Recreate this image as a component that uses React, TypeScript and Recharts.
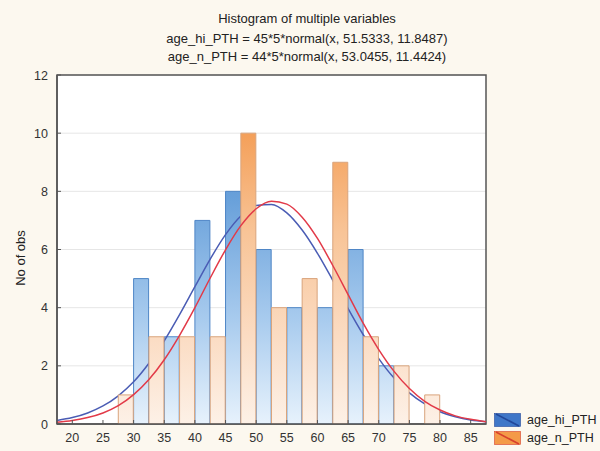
import { Bar, CartesianGrid, ComposedChart, Line, ReferenceArea, XAxis, YAxis } from "recharts"

// histogram bins (centre of each 5-year bin)
const binCenters = [27.5, 32.5, 37.5, 42.5, 47.5, 52.5, 57.5, 62.5, 67.5, 72.5, 77.5]
const hiCounts = [0, 5, 3, 7, 8, 6, 4, 4, 6, 2, 0]
const nCounts = [1, 3, 3, 3, 10, 4, 5, 9, 3, 2, 1]

// fitted normal curves
const curveX = [
  17.5, 20, 22.5, 25, 27.5, 30, 32.5, 35, 37.5, 40, 42.5, 45, 47.5, 50, 52.5,
  55, 57.5, 60, 62.5, 65, 67.5, 70, 72.5, 75, 77.5, 80, 82.5, 85, 87.5,
]
const hiCurve = [
  0.12, 0.22, 0.38, 0.62, 0.97, 1.45, 2.09, 2.86, 3.76, 4.72, 5.67, 6.51, 7.15,
  7.51, 7.55, 7.26, 6.67, 5.87, 4.94, 3.97, 3.06, 2.25, 1.58, 1.07, 0.69, 0.42,
  0.25, 0.14, 0.08,
]
const nCurve = [
  0.06, 0.12, 0.22, 0.38, 0.63, 1.01, 1.53, 2.21, 3.05, 4.0, 5.02, 5.99, 6.82,
  7.4, 7.66, 7.56, 7.11, 6.38, 5.45, 4.45, 3.45, 2.56, 1.81, 1.22, 0.78, 0.48,
  0.28, 0.16, 0.08,
]

const xTicks = [20, 25, 30, 35, 40, 45, 50, 55, 60, 65, 70, 75, 80, 85]
const yTicks = [0, 2, 4, 6, 8, 10, 12]

const titleLines = [
  "Histogram of multiple variables",
  "age_hi_PTH = 45*5*normal(x, 51.5333, 11.8487)",
  "age_n_PTH = 44*5*normal(x, 53.0455, 11.4424)",
]

const W = 600
const H = 451
const PLOT_TOP = 75
const PLOT_LEFT = 57
const PLOT_RIGHT = 486
const PLOT_BOTTOM = 424
const X_DOMAIN: [number, number] = [17.5, 87.5]
const BIN = 5

const FONT = "'Liberation Sans', Arial, sans-serif"
const AXIS = "#555"
const BG = "#fcf8ef"

// each bin is split in two half-width slots: age_hi_PTH left, age_n_PTH right
const histData = binCenters.flatMap((c, i) => [
  { x: c - BIN / 4, hi: hiCounts[i] },
  { x: c + BIN / 4, n: nCounts[i] },
])
const hiLine = curveX.map((x, i) => ({ x, y: hiCurve[i] }))
const nLine = curveX.map((x, i) => ({ x, y: nCurve[i] }))

function BottomTick({ x, y, payload }: any) {
  return (
    <g>
      <line x1={x} y1={y} x2={x} y2={y - 4} stroke={AXIS} />
      <text x={x} y={y + 18} textAnchor="middle" fontSize={12.5} fill="#333" fontFamily={FONT}>
        {payload.value}
      </text>
    </g>
  )
}

function TopTick({ x, y }: any) {
  return <line x1={x} y1={y} x2={x} y2={y + 4} stroke={AXIS} />
}

function LeftTick({ x, y, payload }: any) {
  return (
    <g>
      <line x1={x} y1={y} x2={x + 4} y2={y} stroke={AXIS} />
      <text x={x - 9} y={y + 4.5} textAnchor="end" fontSize={12.5} fill="#333" fontFamily={FONT}>
        {payload.value}
      </text>
    </g>
  )
}

function RightTick({ x, y }: any) {
  return <line x1={x} y1={y} x2={x - 4} y2={y} stroke={AXIS} />
}

function Swatch({ fill, line }: { fill: string; line: string }) {
  return (
    <svg width={27} height={14} style={{ display: "block" }}>
      <rect x={0.5} y={0.5} width={26} height={13} fill={fill} stroke={line} strokeWidth={0.6} />
      <line x1={2} y1={1} x2={25} y2={13} stroke={line} strokeWidth={1.6} />
    </svg>
  )
}

export default function App() {
  return (
    <div style={{ position: "relative", width: W, height: H, background: BG, fontFamily: FONT }}>
      <style>{"body{margin:0}"}</style>
      {titleLines.map((t, i) => (
        <div
          key={t}
          style={{
            position: "absolute",
            left: 0,
            width: 614,
            top: [11, 31, 49][i],
            textAlign: "center",
            fontSize: 13,
            color: "#222",
            whiteSpace: "nowrap",
          }}
        >
          {t}
        </div>
      ))}
      <ComposedChart
        width={W}
        height={H}
        data={histData}
        margin={{ top: PLOT_TOP, right: W - PLOT_RIGHT, bottom: 0, left: PLOT_LEFT - 30 }}
        barGap={0}
        barCategoryGap={0}
        style={{ position: "absolute", left: 0, top: 0 }}
      >
        <defs>
          <linearGradient id="gradHi" gradientUnits="userSpaceOnUse" x1={0} y1={PLOT_TOP} x2={0} y2={PLOT_BOTTOM}>
            <stop offset="0" stopColor="#3f7cc7" />
            <stop offset="0.35" stopColor="#68a0da" />
            <stop offset="0.7" stopColor="#a8cbee" />
            <stop offset="1" stopColor="#e7f2fc" />
          </linearGradient>
          <linearGradient id="gradN" gradientUnits="userSpaceOnUse" x1={0} y1={PLOT_TOP} x2={0} y2={PLOT_BOTTOM}>
            <stop offset="0" stopColor="#f28d38" />
            <stop offset="0.17" stopColor="#f4a05a" />
            <stop offset="0.45" stopColor="#f8c497" />
            <stop offset="0.75" stopColor="#fbdcc3" />
            <stop offset="1" stopColor="#fdf1e7" />
          </linearGradient>
        </defs>
        <CartesianGrid vertical={false} stroke="#e6e6e6" fill="#ffffff" />
        <XAxis
          dataKey="x"
          type="number"
          domain={X_DOMAIN}
          ticks={xTicks}
          allowDataOverflow
          height={H - PLOT_BOTTOM}
          tickSize={0}
          tickMargin={0}
          tickLine={false}
          axisLine={{ stroke: AXIS, strokeWidth: 1.5 }}
          tick={<BottomTick />}
        />
        {/* curves live on the mirrored top axis so they don't shrink the bar band */}
        <XAxis
          xAxisId="top"
          orientation="top"
          dataKey="x"
          type="number"
          domain={X_DOMAIN}
          ticks={xTicks}
          allowDataOverflow
          height={0}
          tickSize={0}
          tickMargin={0}
          tickLine={false}
          axisLine={false}
          tick={<TopTick />}
        />
        <YAxis
          type="number"
          domain={[0, 12]}
          ticks={yTicks}
          allowDataOverflow
          width={30}
          tickSize={0}
          tickMargin={0}
          tickLine={false}
          axisLine={{ stroke: AXIS, strokeWidth: 1.5 }}
          tick={<LeftTick />}
        />
        <YAxis
          yAxisId="right"
          orientation="right"
          type="number"
          domain={[0, 12]}
          ticks={yTicks}
          allowDataOverflow
          width={0}
          tickSize={0}
          tickMargin={0}
          tickLine={false}
          axisLine={false}
          tick={<RightTick />}
        />
        <Bar
          dataKey="hi"
          stackId="h"
          fill="url(#gradHi)"
          stroke="#4f86c6"
          strokeWidth={1}
          isAnimationActive={false}
          zIndex={300}
        />
        <Line
          xAxisId="top"
          data={hiLine}
          dataKey="y"
          type="monotone"
          stroke="#4a5cb4"
          strokeWidth={1.5}
          dot={false}
          isAnimationActive={false}
          zIndex={310}
        />
        <Bar
          dataKey="n"
          stackId="h"
          fill="url(#gradN)"
          stroke="#d9a47c"
          strokeWidth={1}
          isAnimationActive={false}
          zIndex={320}
        />
        <Line
          xAxisId="top"
          data={nLine}
          dataKey="y"
          type="monotone"
          stroke="#e23a48"
          strokeWidth={1.5}
          dot={false}
          isAnimationActive={false}
          zIndex={330}
        />
        <ReferenceArea
          x1={X_DOMAIN[0]}
          x2={X_DOMAIN[1]}
          y1={0}
          y2={12}
          fill="none"
          stroke={AXIS}
          strokeWidth={1.5}
          ifOverflow="visible"
        />
      </ComposedChart>
      <div
        style={{
          position: "absolute",
          left: 10,
          top: 258,
          transform: "translate(-50%, -50%) rotate(-90deg)",
          transformOrigin: "center",
          fontSize: 13,
          color: "#222",
          whiteSpace: "nowrap",
          marginLeft: 10,
        }}
      >
        No of obs
      </div>
      <div style={{ position: "absolute", left: 494, top: 411, fontSize: 12.5, color: "#222" }}>
        {[
          { label: "age_hi_PTH", fill: "#3f77c8", line: "#22489a" },
          { label: "age_n_PTH", fill: "#f49a48", line: "#d8402c" },
        ].map((it) => (
          <div key={it.label} style={{ display: "flex", alignItems: "center", height: 18, gap: 6 }}>
            <Swatch fill={it.fill} line={it.line} />
            <span>{it.label}</span>
          </div>
        ))}
      </div>
    </div>
  )
}
